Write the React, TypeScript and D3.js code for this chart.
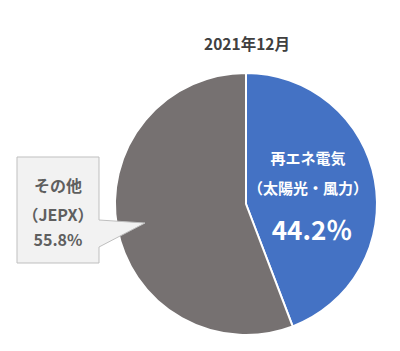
import React from "react";
import * as d3 from "d3";

const title = "2021年12月";
const categories = ["再エネ電気", "その他"];
const values = [44.2, 55.8];
const colors = ["#4472C4", "#767171"];
const blueLabelLines = ["再エネ電気", "（太陽光・風力）"];
const grayLabelLines = ["その他", "（JEPX）"];

export default function App() {
  const W = 400, H = 351;
  const cx = 246, cy = 204, r = 131;
  const pie = d3.pie<number>().sort(null).startAngle(0).endAngle(2 * Math.PI);
  const arcs = pie(values);
  const arc = d3.arc<d3.PieArcDatum<number>>().innerRadius(0).outerRadius(r);
  const font = "'Noto Sans CJK JP', 'Noto Sans', sans-serif";
  const fmt = (v: number) => v.toFixed(1);

  // callout box
  const bx0 = 17, bx1 = 99, by0 = 157, by1 = 263;
  const calloutPath = `M${bx0},${by0} H${bx1} V220 L145,223 L${bx1},247 V${by1} H${bx0} Z`;

  return (
    <svg width={W} height={H} style={{ position: "absolute", left: 0, top: 0, background: "#fff" }} fontFamily={font}>
      <text x={247} y={43} textAnchor="middle" dominantBaseline="central" fontSize={15.5} fontWeight={700} fill="#404040">{title}</text>
      <g transform={`translate(${cx},${cy})`}>
        {arcs.map((a, i) => (
          <path key={categories[i]} d={arc(a) || ""} fill={colors[i]} stroke="#fff" strokeWidth={2} strokeLinejoin="round" />
        ))}
      </g>
      <g fill="#fff" fontWeight={700} textAnchor="middle" dominantBaseline="central">
        <text x={308} y={157} fontSize={15}>{blueLabelLines[0]}</text>
        <text x={308} y={187} fontSize={15}>{blueLabelLines[1]}</text>
        <text x={312} y={228} fontSize={26}>{fmt(values[0])}％</text>
      </g>
      <path d={calloutPath} fill="#F2F2F2" stroke="#BFBFBF" strokeWidth={1} />
      <g fill="#5F5F5F" fontWeight={700} textAnchor="middle" dominantBaseline="central" fontSize={16}>
        <text x={58} y={185}>{grayLabelLines[0]}</text>
        <text x={58} y={214}>{grayLabelLines[1]}</text>
        <text x={58} y={239}>{fmt(values[1])}%</text>
      </g>
    </svg>
  );
}
